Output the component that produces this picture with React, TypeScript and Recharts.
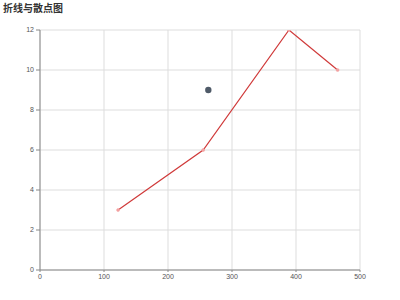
import React from "react";
import { ComposedChart, Line, Scatter, XAxis, YAxis, CartesianGrid } from "recharts";

const LINE_X = [122, 255, 389, 465];
const LINE_Y = [3, 6, 12, 10];
const SCATTER_X = [263];
const SCATTER_Y = [9];
const X_TICKS = [0, 100, 200, 300, 400, 500];
const Y_TICKS = [0, 2, 4, 6, 8, 10, 12];

const lineData = LINE_X.map((x, i) => ({ x, y: LINE_Y[i] }));
const scatterData = SCATTER_X.map((x, i) => ({ x, y: SCATTER_Y[i] }));

const tickStyle = { fontSize: 7, fill: "#555", fontFamily: "'Liberation Sans', Arial, sans-serif" };

export default function App() {
  return (
    <div style={{ position: "absolute", left: 0, top: 0, width: 400, height: 300, background: "#fff" }}>
      <div
        style={{
          position: "absolute",
          left: 3,
          top: 1,
          fontSize: 10,
          fontWeight: 700,
          color: "#333",
          fontFamily: "'Noto Sans CJK SC', sans-serif",
          lineHeight: "14px",
        }}
      >
        折线与散点图
      </div>
      <ComposedChart width={400} height={300} margin={{ top: 30, right: 40, left: 0, bottom: 0 }}>
        <CartesianGrid stroke="#dddddd" strokeWidth={1} />
        <XAxis
          type="number"
          dataKey="x"
          domain={[0, 500]}
          ticks={X_TICKS}
          height={30}
          stroke="#888"
          tickSize={2}
          tick={tickStyle}
          allowDataOverflow
        />
        <YAxis
          type="number"
          dataKey="y"
          domain={[0, 12]}
          ticks={Y_TICKS}
          width={40}
          stroke="#888"
          tickSize={4}
          tick={tickStyle}
          allowDataOverflow
        />
        <Line
          data={lineData}
          dataKey="y"
          type="linear"
          stroke="#d03a3a"
          strokeWidth={1.2}
          dot={{ r: 1.5, fill: "#f2a0a0", stroke: "#f2a0a0", strokeWidth: 0.5 }}
          isAnimationActive={false}
        />
        <Scatter
          data={scatterData}
          dataKey="y"
          fill="#4f5a68"
          shape={(props: any) => <circle cx={props.cx} cy={props.cy} r={3.2} fill="#4f5a68" />}
          isAnimationActive={false}
        />
      </ComposedChart>
    </div>
  );
}
